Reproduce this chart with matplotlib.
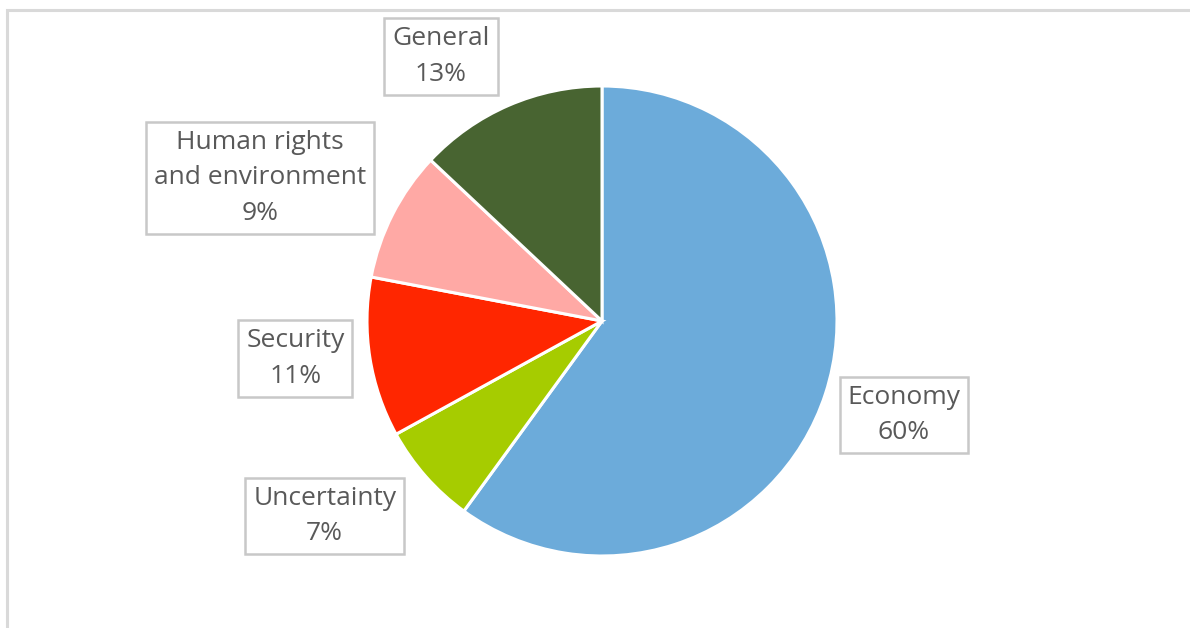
import matplotlib.pyplot as plt
from matplotlib.patches import Rectangle

# topic shares, drawn clockwise from 12 o'clock
topics = ["Economy", "Uncertainty", "Security", "Human rights\nand environment", "General"]
shares = [60, 7, 11, 9, 13]
colors = ["#6CABDA", "#A6CC00", "#FF2600", "#FFA9A5", "#486431"]

# label box centres, in pie radii from the centre
label_pos = [(1.285, -0.40), (-1.18, -0.83), (-1.305, -0.16), (-1.455, 0.61), (-0.685, 1.125)]

W, H = 1190, 628
fig = plt.figure(figsize=(W / 100, H / 100), dpi=100)

# light frame around the chart area (runs off the right/bottom edge)
fig.patches.append(Rectangle((7 / W, -0.05), 1.2, (H - 10) / H + 0.05, transform=fig.transFigure,
                             fill=False, edgecolor="#D9D9D9", linewidth=2.2))

cx, cy, r = 602, 321, 235
ax = fig.add_axes([(cx - r) / W, (H - cy - r) / H, 2 * r / W, 2 * r / H])
ax.pie(shares, colors=colors, startangle=90, counterclock=False, radius=1,
       wedgeprops=dict(edgecolor="white", linewidth=2.2))
ax.set_xlim(-1, 1)
ax.set_ylim(-1, 1)
ax.set_aspect("equal")
ax.axis("off")

for name, val, (x, y) in zip(topics, shares, label_pos):
    ax.text(x, y, f"{name}\n{val}%", ha="center", va="center", fontsize=19,
            family="Open Sans", color="#595959", linespacing=1.55, clip_on=False,
            bbox=dict(boxstyle="square,pad=0.3", facecolor="white",
                      edgecolor="#C8C8C8", linewidth=1.8))

fig.savefig("out.png", dpi=100)
